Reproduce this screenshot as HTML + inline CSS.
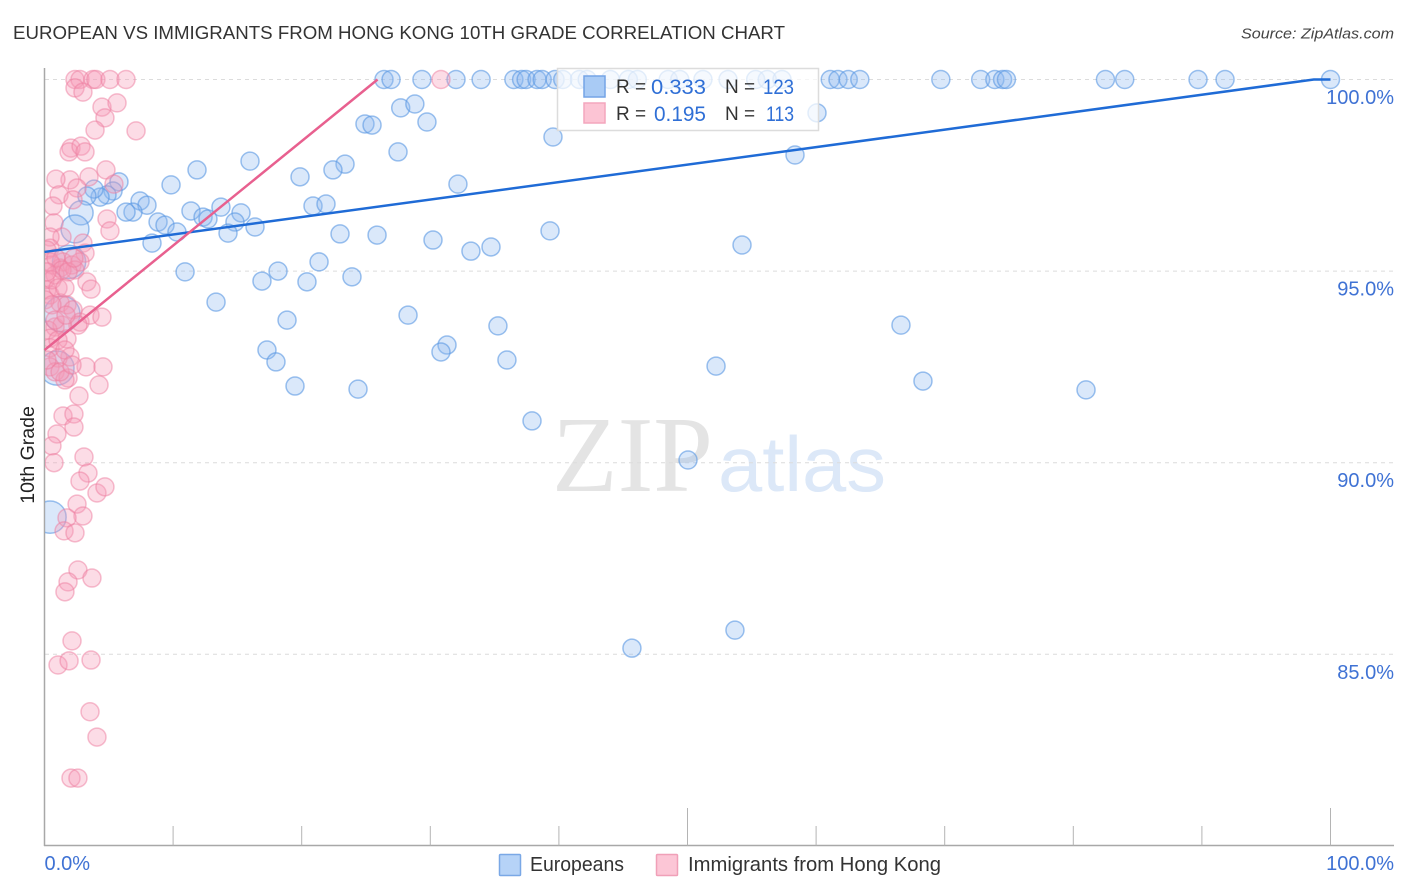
<!DOCTYPE html>
<html lang="en">
<head>
<meta charset="utf-8">
<title>European vs Immigrants from Hong Kong 10th Grade Correlation Chart</title>
<style>
html,body{margin:0;padding:0;background:#fff;width:1406px;height:892px;overflow:hidden}
svg{display:block;font-family:"Liberation Sans",sans-serif}
</style>
</head>
<body>
<svg id="chart" width="1406" height="892" viewBox="0 0 1406 892" xmlns="http://www.w3.org/2000/svg">
  <defs><clipPath id="plot-clip"><rect x="45" y="60" width="1349" height="785"/></clipPath></defs>
  <text x="13" y="39" font-size="18.5" fill="#333" textLength="772" lengthAdjust="spacingAndGlyphs">EUROPEAN VS IMMIGRANTS FROM HONG KONG 10TH GRADE CORRELATION CHART</text>
  <text x="1394" y="38.5" font-size="15" font-style="italic" fill="#444" text-anchor="end" textLength="153" lengthAdjust="spacingAndGlyphs">Source: ZipAtlas.com</text>
  <g>
    <text x="552" y="491" font-family="Liberation Serif, serif" font-size="108" fill="#e4e4e4" textLength="161" lengthAdjust="spacingAndGlyphs">ZIP</text>
    <text x="718" y="491" font-size="78" fill="#dce8f8" textLength="168" lengthAdjust="spacingAndGlyphs">atlas</text>
  </g>
  <g id="grid"></g>
  <g id="axes"></g>
  <g id="europeans" clip-path="url(#plot-clip)"></g>
  <g id="immigrants" clip-path="url(#plot-clip)"></g>
  <g id="trends"></g>
  <g>
    <rect x="557.5" y="68.5" width="261" height="62" fill="#fff" fill-opacity="0.72" stroke="#dcdcdc" stroke-width="1.5"/>
    <rect x="584" y="76" width="21" height="21" fill="#a9cbf5" stroke="#74a4e6" stroke-width="1.5"/>
    <rect x="584" y="103" width="21" height="20" fill="#fcc4d4" stroke="#f4a6bd" stroke-width="1.5"/>
    <text x="616" y="93" font-size="19" fill="#333">R =</text>
    <text x="651" y="94" font-size="21" fill="#2f6fd6" textLength="55" lengthAdjust="spacingAndGlyphs">0.333</text>
    <text x="725" y="93" font-size="19" fill="#333">N =</text>
    <text x="763" y="94" font-size="21" fill="#2f6fd6" textLength="31" lengthAdjust="spacingAndGlyphs">123</text>
    <text x="616" y="120" font-size="19" fill="#333">R =</text>
    <text x="654" y="121" font-size="21" fill="#2f6fd6" textLength="52" lengthAdjust="spacingAndGlyphs">0.195</text>
    <text x="725" y="120" font-size="19" fill="#333">N =</text>
    <text x="766" y="121" font-size="21" fill="#2f6fd6" textLength="28" lengthAdjust="spacingAndGlyphs">113</text>
  </g>
  <text transform="translate(34 455) rotate(-90)" font-size="19.5" fill="#222" text-anchor="middle">10th Grade</text>
  <g>
    <rect x="499.5" y="854.5" width="21" height="21" rx="1" fill="#b6d3f7" stroke="#7aa8e6" stroke-width="1.5"/>
    <text x="530" y="871" font-size="20" fill="#333" textLength="94" lengthAdjust="spacingAndGlyphs">Europeans</text>
    <rect x="656.5" y="854.5" width="21" height="21" rx="1" fill="#fcc6d6" stroke="#f0a0b8" stroke-width="1.5"/>
    <text x="688" y="871" font-size="20" fill="#333" textLength="253" lengthAdjust="spacingAndGlyphs">Immigrants from Hong Kong</text>
  </g>
</svg>
<script>
const xTickValues = [0,10,20,30,40,50,60,70,80,90,100];
const xMajorTicks = [50,100];
const xEdgeLabels = ["0.0%","100.0%"];
const yTickValues = [100,95,90,85];
const yTickLabels = ["100.0%","95.0%","90.0%","85.0%"];

const europeanX = [26.4,26.95,29.35,32.0,33.95,36.5,37.1,37.45,38.3,38.7,39.7,40.3,41.6,42.2,44.0,45.4,46.1,48.5,49.4,51.2,53.15,55.3,56.2,57.35,61.1,61.7,62.5,63.4,69.7,72.8,73.9,74.5,74.8,82.5,84.0,89.7,91.8,100,
27.7,28.8,29.74,24.92,25.47,27.49,39.54,60.07,58.36,15.98,11.86,9.84,23.37,22.43,19.87,32.15,39.31,54.24,30.21,25.86,22.98,34.72,33.16,21.35,18.16,10.93,23.91,20.41,16.91,13.34,28.27,18.86,35.26,66.6,31.3,30.83,17.3,18.0,35.96,52.22,19.48,24.38,68.31,80.99,37.91,50.04,53.69,45.68,
5.79,5.33,4.86,4.32,3.85,3.3,7.43,7.97,6.88,6.34,11.39,13.72,12.33,12.71,15.28,14.81,16.37,14.27,8.83,9.37,10.3,8.36,20.88,21.89];
const europeanY = [100,100,100,100,100,100,100,100,100,100,100,100,100,100,100,100,100,100,100,100,100,100,100,100,100,100,100,100,100,100,100,100,100,100,100,100,100,100,
99.26,99.36,98.89,98.84,98.81,98.11,98.5,99.13,98.03,97.87,97.64,97.25,97.79,97.64,97.46,97.27,96.05,95.68,95.81,95.94,95.97,95.63,95.52,95.24,95.0,94.98,94.85,94.72,94.74,94.19,93.85,93.72,93.57,93.59,93.07,92.89,92.94,92.63,92.68,92.52,92.0,91.92,92.13,91.9,91.09,90.07,85.63,85.16,
97.33,97.09,96.99,96.93,97.14,96.96,96.83,96.72,96.54,96.54,96.57,96.67,96.41,96.36,96.52,96.28,96.15,95.99,96.28,96.2,96.02,95.73,96.7,96.75];

const europeanLargeX = [2.84,2.37,1.91,1.36,0.97,0.43];
const europeanLargeY = [96.52,96.1,95.24,93.88,92.47,88.58];
const europeanLargeWeight = [1.8,2.4,3.4,4.0,3.6,3.2];

const immigrantX = [2.37,2.76,3.77,4.0,5.09,6.34,30.83,2.37,2.99,4.47,5.64,4.7,3.93,7.12,2.06,1.91,2.84,3.15,4.78,3.46,1.98,0.89,2.53,5.4,1.13,2.22,0.66,0.74,4.86,5.09,1.36,2.99,0.43,0.43,3.15,1.44,0.19,0.58,1.21,2.14,2.76,0.82,2.37,0.19,0.43,1.21,1.75,2.22,2.76,3.54,4.47,2.6,0.82,1.36,0.27,1.75,0.43,0.43,1.98,1.05,0.43,0.82,1.83,1.59,3.23,4.55,4.24,2.68,1.44,2.29,2.29,0.97,0.58,0.74,3.07,3.38,2.76,4.08,4.7,2.53,2.99,1.75,1.52,2.37,2.6,3.69,1.83,1.59,2.14,1.05,1.91,3.62,3.54,4.08,2.06,2.6,3.3,3.62,0.04,
0.43,0.89,1.36,1.83,2.29,0.58,0.19,1.05,0.04,0.58,1.59,1.05,1.59,0.19,1.21,2.14,0.82,1.67];
const immigrantY = [100,100,100,100,100,100,100,99.78,99.67,99.28,99.39,99.0,98.68,98.66,98.21,98.11,98.26,98.11,97.64,97.46,97.38,97.4,97.17,97.27,96.99,96.86,96.7,96.26,96.36,96.05,95.89,95.73,95.89,95.6,95.47,95.24,95.55,95.16,95.08,95.16,95.24,94.9,95.03,94.51,94.38,94.17,94.12,93.99,93.67,93.85,93.8,93.59,93.54,93.59,93.46,93.23,93.25,93.0,92.76,92.73,92.5,92.37,92.21,92.16,92.5,92.5,92.03,91.74,91.22,91.27,90.93,90.75,90.44,90.0,90.15,89.73,89.52,89.21,89.37,88.92,88.61,88.56,88.22,88.17,87.2,86.99,86.89,86.63,85.35,84.72,84.83,84.85,83.5,82.84,81.77,81.77,94.72,94.53,94.77,
95.24,95.34,95.03,94.98,95.34,94.77,94.98,94.56,94.25,94.12,94.56,93.2,92.94,92.68,92.37,92.55,93.72,93.85];

const europeanTrendX = [0,98.7,100];
const europeanTrendY = [95.5,100,100];
const immigrantTrendX = [0,25.9];
const immigrantTrendY = [92.94,100];

const SVGNS = "http://www.w3.org/2000/svg";
const sx = v => 44.5 + v * 12.86;
const sy = v => 79.5 + (100 - v) * 38.32;

function make(tag, parent, attrs){
  const el = document.createElementNS(SVGNS, tag);
  for (const k in attrs) el.setAttribute(k, attrs[k]);
  parent.appendChild(el);
  return el;
}

const grid = document.getElementById('grid');
const axes = document.getElementById('axes');

yTickValues.forEach((v, i) => {
  const line = make('line', grid, {x1:45, x2:1394, y1:sy(v), y2:sy(v), stroke:'#dcdcdc', 'stroke-width':1, 'stroke-dasharray':'4 4'});
  
  
  const label = make('text', axes, {x:1394, y:sy(v) + 24.5, 'font-size':20, fill:'#3f72d4', 'text-anchor':'end'});
  label.textContent = yTickLabels[i];
  
  
});

const yAxisLine = make('line', axes, {x1:44.5, x2:44.5, y1:68, y2:846, stroke:'#a8a8a8', 'stroke-width':1.5});


const xAxisLine = make('line', axes, {x1:44, x2:1394, y1:845.5, y2:845.5, stroke:'#a8a8a8', 'stroke-width':1.5});



xTickValues.forEach(v => {
  if (v === 0) return;
  const tick = make('line', axes, {x1:sx(v), x2:sx(v), y1:xMajorTicks.includes(v) ? 808 : 826, y2:845.5, stroke:'#b4b4b4', 'stroke-width':1});
  
  
});

const xLabelLeft = make('text', axes, {x:sx(0), y:870, 'font-size':20, fill:'#3f72d4'});
xLabelLeft.textContent = xEdgeLabels[0];


const xLabelRight = make('text', axes, {x:1394, y:870, 'font-size':20, fill:'#3f72d4', 'text-anchor':'end'});
xLabelRight.textContent = xEdgeLabels[1];



const europeansGroup = document.getElementById('europeans');
const immigrantsGroup = document.getElementById('immigrants');
const BASE_R = 9;

europeanX.forEach((v, i) => {
  const c = make('circle', europeansGroup, {cx:sx(v), cy:sy(europeanY[i]), r:BASE_R, fill:'#8db8ef', 'fill-opacity':0.32, stroke:'#5a97e3', 'stroke-opacity':0.6, 'stroke-width':1.5});
  
  
});
europeanLargeX.forEach((v, i) => {
  const c = make('circle', europeansGroup, {cx:sx(v), cy:sy(europeanLargeY[i]), r:BASE_R * Math.sqrt(europeanLargeWeight[i]), fill:'#8db8ef', 'fill-opacity':0.32, stroke:'#5a97e3', 'stroke-opacity':0.6, 'stroke-width':1.5});
  
  
});
immigrantX.forEach((v, i) => {
  const c = make('circle', immigrantsGroup, {cx:sx(v), cy:sy(immigrantY[i]), r:BASE_R, fill:'#f79ab6', 'fill-opacity':0.35, stroke:'#ee7ea0', 'stroke-opacity':0.5, 'stroke-width':1.5});
  
  
});

const trends = document.getElementById('trends');
const europeanTrend = make('polyline', trends, {points:europeanTrendX.map((v, i) => sx(v) + ',' + sy(europeanTrendY[i])).join(' '), fill:'none', stroke:'#1f6bd6', 'stroke-width':2.5});


const immigrantTrend = make('polyline', trends, {points:immigrantTrendX.map((v, i) => sx(v) + ',' + sy(immigrantTrendY[i])).join(' '), fill:'none', stroke:'#e8608f', 'stroke-width':2.5});


</script>
</body>
</html>
